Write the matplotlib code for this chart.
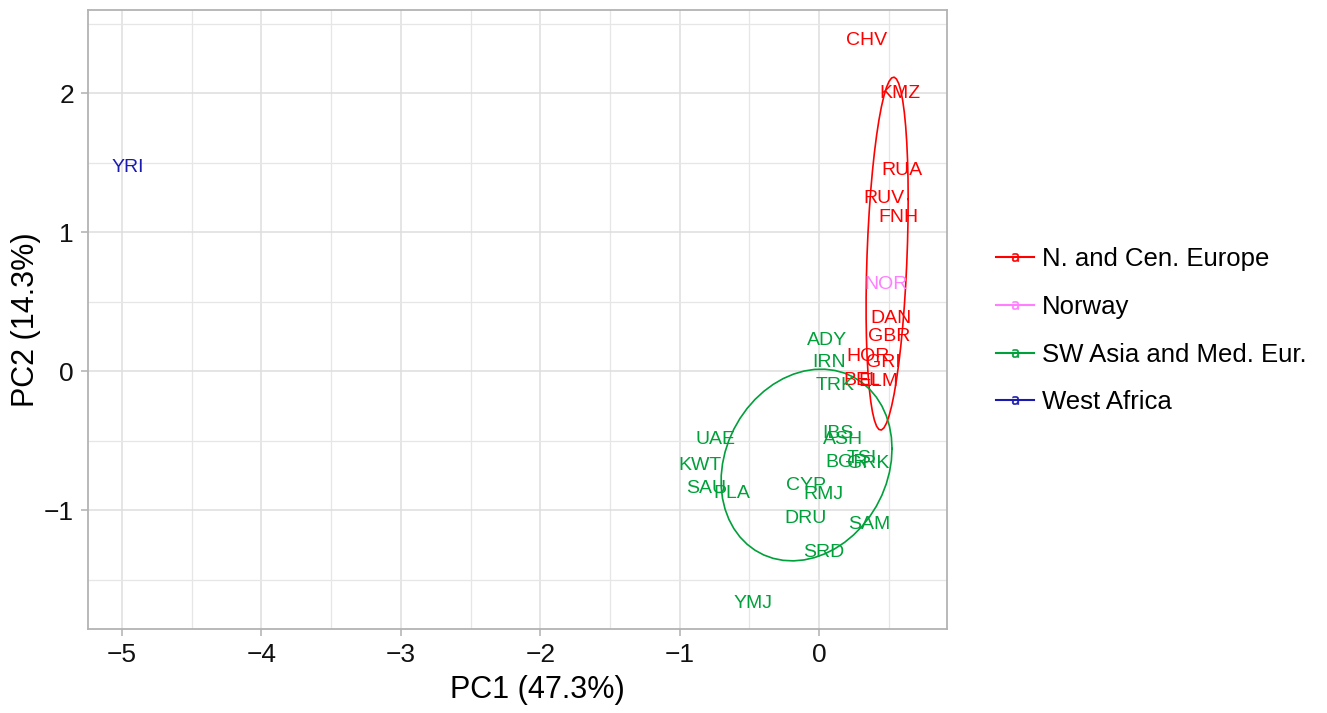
import numpy as np
import matplotlib
matplotlib.use("Agg")
import matplotlib.pyplot as plt
from matplotlib.lines import Line2D

plt.rcParams['font.family'] = ['Liberation Sans', 'DejaVu Sans']

# population labels and PCA coordinates
labels = ['YRI',
          'CHV', 'KMZ', 'RUA', 'RUV', 'FNH', 'DAN', 'GBR', 'HOR', 'GRI', 'BEL', 'ELM',
          'NOR',
          'ADY', 'IRN', 'TRK', 'IBS', 'ASH', 'BGR', 'TSI', 'GRK', 'UAE', 'KWT', 'SAU',
          'PLA', 'CYP', 'RMJ', 'DRU', 'SAM', 'SRD', 'YMJ']
pc1 = [-4.957,
       0.337, 0.581, 0.595, 0.466, 0.567, 0.516, 0.502, 0.352, 0.459, 0.308, 0.423,
       0.481,
       0.057, 0.072, 0.115, 0.136, 0.172, 0.194, 0.308, 0.352, -0.746, -0.854, -0.811,
       -0.624, -0.093, 0.029, -0.100, 0.359, 0.036, -0.473]
pc2 = [1.468,
       2.381, 2.000, 1.446, 1.245, 1.108, 0.381, 0.252, 0.108, 0.065, -0.065, -0.072,
       0.626,
       0.223, 0.065, -0.101, -0.446, -0.496, -0.655, -0.626, -0.662, -0.496, -0.683, -0.842,
       -0.878, -0.827, -0.885, -1.058, -1.101, -1.302, -1.676]
groups = (['West Africa']
          + ['N. and Cen. Europe'] * 11
          + ['Norway']
          + ['SW Asia and Med. Eur.'] * 18)

group_order = ['N. and Cen. Europe', 'Norway', 'SW Asia and Med. Eur.', 'West Africa']
group_colors = {'N. and Cen. Europe': '#FF0000',
                'Norway': '#FF7FFF',
                'SW Asia and Med. Eur.': '#00A03A',
                'West Africa': '#1A1AB0'}

# confidence ellipses: centre and shape matrix [[a, c], [c, b]]
ellipse_groups = ['N. and Cen. Europe', 'SW Asia and Med. Eur.']
ellipse_centers = [(0.488, 0.845), (-0.090, -0.676)]
ellipse_shapes = [(0.0228, 1.613, 0.059), (0.376, 0.476, 0.072)]

fig = plt.figure(figsize=(13.27, 7.13), dpi=100)
ax = fig.add_axes([0.0663, 0.1178, 0.6474, 0.868])

for lab, x, y, g in zip(labels, pc1, pc2, groups):
    ax.text(x, y, lab, color=group_colors[g], fontsize=14,
            ha='center', va='center', zorder=3)

t = np.linspace(0, 2 * np.pi, 52)
for g, (cx, cy), (a, b, c) in zip(ellipse_groups, ellipse_centers, ellipse_shapes):
    L = np.linalg.cholesky(np.array([[a, c], [c, b]]))
    pts = L @ np.vstack([np.cos(t), np.sin(t)])
    ax.plot(cx + pts[0], cy + pts[1], color=group_colors[g], lw=1.2, zorder=2)

ax.set_xlim(-5.244, 0.918)
ax.set_ylim(-1.856, 2.597)
ax.set_xticks([-5, -4, -3, -2, -1, 0])
ax.set_yticks([-1, 0, 1, 2])
ax.set_xticks(np.arange(-4.5, 1, 1), minor=True)
ax.set_yticks([-1.5, -0.5, 0.5, 1.5, 2.5], minor=True)
ax.set_xticklabels(['\u22125', '\u22124', '\u22123', '\u22122', '\u22121', '0'])
ax.set_yticklabels(['\u22121', '0', '1', '2'])
ax.grid(True, which='major', color='#DEDEDE', lw=1.1, zorder=0)
ax.grid(True, which='minor', color='#E6E6E6', lw=0.9, zorder=0)
ax.set_axisbelow(True)
ax.tick_params(which='major', direction='out', length=5, width=1.1,
               color='#B0B0B0', labelsize=19, labelcolor='#111111', pad=5)
ax.tick_params(which='minor', length=0)
for s in ax.spines.values():
    s.set_color('#B3B3B3')
    s.set_linewidth(1.3)

ax.set_xlabel('PC1 (47.3%)', fontsize=22, labelpad=8)
ax.xaxis.set_label_coords(0.523, -0.075)
ax.set_ylabel('PC2 (14.3%)', fontsize=22, labelpad=2)

handles = [Line2D([0], [0], color=group_colors[g], lw=1.5,
                  marker=r'$\mathrm{a}$', markersize=6,
                  markeredgewidth=0.4) for g in group_order]
leg = fig.legend(handles, group_order, loc='center left',
                 bbox_to_anchor=(0.733, 0.536), frameon=False, fontsize=18.5,
                 handlelength=1.5, handletextpad=0.3, labelspacing=0.92)

fig.savefig('out.png', dpi=100)
